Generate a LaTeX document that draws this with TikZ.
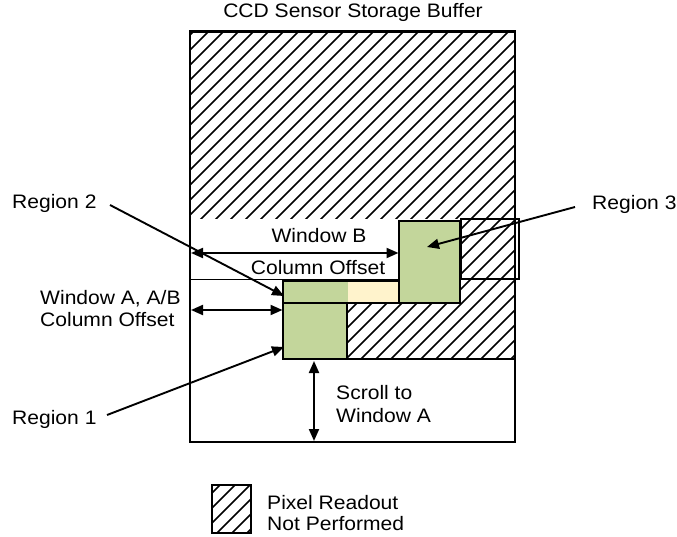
\documentclass[tikz,border=0pt]{standalone}
\usepackage{fontspec}
\setmainfont{Liberation Sans}[FakeStretch=1.08]
\usetikzlibrary{arrows.meta}
\definecolor{rgreen}{RGB}{195,214,155}
\definecolor{ryellow}{RGB}{255,243,204}
\begin{document}
\begin{tikzpicture}[x=1pt,y=-1pt,
  lbl/.style={inner sep=0pt, anchor=base west, font=\fontsize{19.5}{23}\selectfont},
  lblc/.style={lbl, anchor=base},
  hatchline/.style={line width=1.5pt},
  thickbox/.style={line width=2.3pt},
  thinline/.style={line width=1.3pt},
  dimarrow/.style={line width=2pt, {Triangle[length=12pt,width=10pt]}-{Triangle[length=12pt,width=10pt]}},
  ptrarrow/.style={line width=1.9pt, -{Triangle[length=12pt,width=10pt]}}]
\useasboundingbox (0,0) rectangle (677,537);
% hatched areas
\begin{scope}
  \clip (190,31.5) rectangle (515,219)
        (347,303) -- (460,303) -- (460,219) -- (515,219) -- (515,359) -- (347,359) -- cycle
        (212,485) rectangle (251,533);
  \foreach \c in {-350,-335,...,540}
    \draw[hatchline] (\c,560) -- ++(560,-560);
\end{scope}
% region fills
\fill[rgreen] (283,281) rectangle (348,303);
\fill[ryellow] (348,281) rectangle (400,303);
% structure lines
\draw[thickbox] (190,31.5) rectangle (515,442);
\draw[thinline] (190,279.5) -- (399,279.5);
\draw[line width=1.7pt] (461,219) rectangle (519,279);
\draw[line width=1.7pt] (347,359) -- (515,359);
\draw[line width=1.7pt] (212,485) rectangle (251,533);
% regions
\draw[thickbox] (283,281) rectangle (400,303);
\draw[thickbox, fill=rgreen] (399,221) rectangle (460,303);
\draw[thickbox, fill=rgreen] (283,303) rectangle (347,359);
% labels
\node[lblc] (title) at (353,18) {CCD Sensor Storage Buffer};
\node[lbl] (r2) at (12,208.3) {Region 2};
\node[lbl] (r3) at (592,210) {Region 3};
\node[lbl] (r1) at (12,424.3) {Region 1};
\node[lblc] (wb) at (319,242.7) {Window B};
\node[lblc] (wbco) at (318,275) {Column Offset};
\node[lbl] (wa) at (40,304) {Window A, A/B};
\node[lbl] (waco) at (40,326.7) {Column Offset};
\node[lbl] (sc1) at (336,399.3) {Scroll to};
\node[lbl] (sc2) at (336,422.7) {Window A};
\node[lbl] (lg1) at (267,509.3) {Pixel Readout};
\node[lbl] (lg2) at (267,530) {Not Performed};
% connector end points
\coordinate (wbL) at (191,253);
\coordinate (wbR) at (398.5,253);
\coordinate (waL) at (191,310);
\coordinate (waR) at (282.5,310);
\coordinate (scT) at (314,361);
\coordinate (scB) at (314,441);
\coordinate (r2s) at (110,205);
\coordinate (r2t) at (284,296);
\coordinate (r1s) at (107,415);
\coordinate (r1t) at (284,347);
\coordinate (r3s) at (575,207);
\coordinate (r3t) at (427,247);
% arrows
\draw[dimarrow] (wbL) -- (wbR);
\draw[dimarrow] (waL) -- (waR);
\draw[dimarrow] (scT) -- (scB);
\draw[ptrarrow] (r2s) -- (r2t);
\draw[ptrarrow] (r1s) -- (r1t);
\draw[ptrarrow] (r3s) -- (r3t);
\end{tikzpicture}
\end{document}
